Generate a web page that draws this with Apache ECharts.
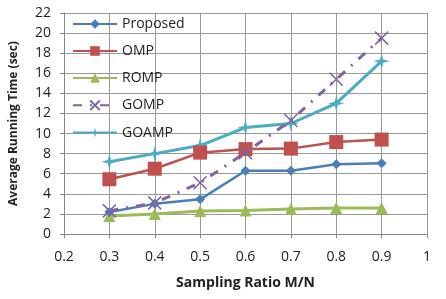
<!DOCTYPE html>
<html>
<head>
    <meta charset="utf-8">
    <title>Running time</title>
    <script src="https://cdn.jsdelivr.net/npm/echarts@6/dist/echarts.min.js"></script>
    <style>
        html, body { margin: 0; padding: 0; background: #fff; }
        #main { width: 446px; height: 299px; }
    </style>
</head>
<body>
    <div id="main"></div>
    <script type="text/javascript">
        // sampling ratios (x)
        var ratios = [0.3, 0.4, 0.5, 0.6, 0.7, 0.8, 0.9];
        // running time in seconds
        var proposed = [2.2, 3.0, 3.45, 6.3, 6.3, 6.95, 7.05];
        var omp = [5.45, 6.5, 8.1, 8.45, 8.5, 9.15, 9.4];
        var romp = [1.8, 2.0, 2.3, 2.35, 2.5, 2.6, 2.6];
        var gomp = [2.3, 3.1, 5.1, 8.1, 11.3, 15.4, 19.5];
        var goamp = [7.2, 8.0, 8.8, 10.6, 11.0, 13.0, 17.2];
        var yTicks = [0, 2, 4, 6, 8, 10, 12, 14, 16, 18, 20, 22];

        var names = ['Proposed', 'OMP', 'ROMP', 'GOMP', 'GOAMP'];
        var font = 'Open Sans';

        function pairs(arr) {
            return ratios.map(function (r, i) { return [r, arr[i]]; });
        }

        var xMark = 'path://M0,0 L10,10 M10,0 L0,10 M0,0 L10,10 M10,0 L0,10';
        var starMark = 'path://M5,0 L6,4 L10,5 L6,6 L5,10 L4,6 L0,5 L4,4 Z';

        var myChart = echarts.init(document.getElementById('main'));

        var option = {
            animation: false,
            textStyle: { fontFamily: font },
            grid: { left: 63, right: 19, top: 13, bottom: 65 },
            legend: {
                orient: 'vertical',
                left: 67,
                top: 12,
                itemGap: 13,
                itemWidth: 44,
                itemHeight: 12,
                data: names,
                textStyle: { fontSize: 14, color: '#222', fontFamily: font }
            },
            xAxis: {
                type: 'value',
                min: 0.2,
                max: 1,
                interval: 0.1,
                name: 'Sampling Ratio M/N',
                nameLocation: 'middle',
                nameGap: 42,
                nameTextStyle: { fontWeight: 'bold', fontSize: 14, color: '#222' },
                axisLine: { lineStyle: { color: '#888' } },
                axisTick: { show: true, length: 4, lineStyle: { color: '#888' } },
                axisLabel: {
                    margin: 16, fontSize: 14, color: '#222',
                    formatter: function (v) { return String(+v.toFixed(1)); }
                },
                splitLine: { show: true, lineStyle: { color: '#999' } }
            },
            yAxis: {
                type: 'value',
                min: yTicks[0],
                max: yTicks[yTicks.length - 1],
                interval: 2,
                name: 'Average Running Time (sec)',
                nameLocation: 'middle',
                nameGap: 44,
                nameTextStyle: { fontWeight: 'bold', fontSize: 12, color: '#222' },
                axisLine: { show: true, lineStyle: { color: '#888' } },
                axisTick: { show: true, length: 4, inside: false, lineStyle: { color: '#888' } },
                axisLabel: { margin: 13, fontSize: 14, color: '#222' },
                splitLine: { show: true, lineStyle: { color: '#999' } }
            },
            series: [
                {
                    name: 'Proposed', type: 'line', data: pairs(proposed),
                    symbol: 'diamond', symbolSize: 10,
                    lineStyle: { color: '#4a7ebb', width: 2.5 },
                    itemStyle: { color: '#4a7ebb' }, z: 5
                },
                {
                    name: 'OMP', type: 'line', data: pairs(omp),
                    symbol: 'rect', symbolSize: 14,
                    lineStyle: { color: '#c0504d', width: 2.5 },
                    itemStyle: { color: '#c0504d' }, z: 4
                },
                {
                    name: 'ROMP', type: 'line', data: pairs(romp),
                    symbol: 'triangle', symbolSize: 12,
                    lineStyle: { color: '#9bbb59', width: 3 },
                    itemStyle: { color: '#9bbb59' }, z: 3
                },
                {
                    name: 'GOMP', type: 'line', data: pairs(gomp),
                    symbol: xMark, symbolSize: 13,
                    lineStyle: { color: '#8064a2', width: 3, type: [9, 8, 2, 8] },
                    itemStyle: { color: 'none', borderColor: '#8064a2', borderWidth: 1.5 }, z: 6
                },
                {
                    name: 'GOAMP', type: 'line', data: pairs(goamp),
                    symbol: starMark, symbolSize: 16,
                    lineStyle: { color: '#4bacc6', width: 3 },
                    itemStyle: { color: '#4bacc6' }, z: 2
                }
            ]
        };
        myChart.setOption(option);
    </script>
</body>
</html>
